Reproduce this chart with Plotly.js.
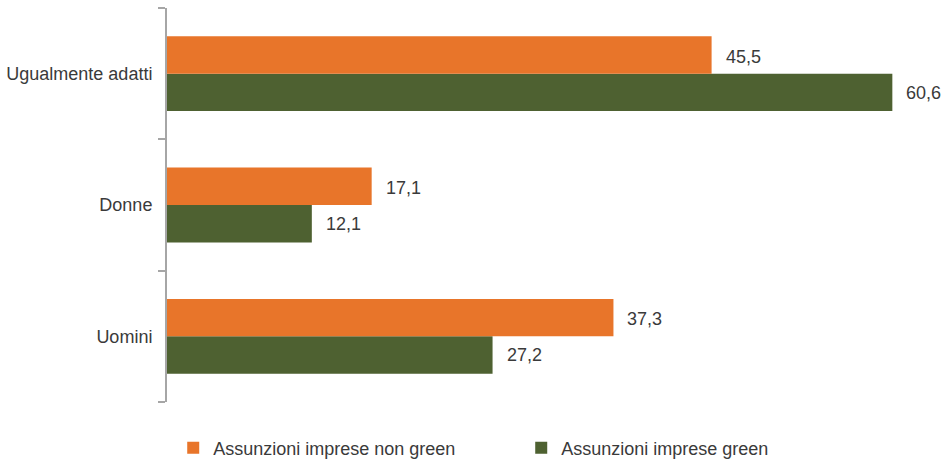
<!DOCTYPE html>
<html>
<head>
<meta charset="utf-8">
<script src="https://cdn.plot.ly/plotly-3.0.1.min.js"></script>
<style>html,body{margin:0;padding:0;background:#fff}#chart{width:947px;height:461px}</style>
</head>
<body>
<div id="chart"></div>
<script>
const categories = ['Uomini', 'Donne', 'Ugualmente adatti'];
const nonGreen = [37.3, 17.1, 45.5];
const green = [27.2, 12.1, 60.6];
const seriesNames = ['Assunzioni imprese non green', 'Assunzioni imprese green'];
const colors = ['#E8752A', '#4E6131'];

const fontFam = '"Liberation Sans", Arial, sans-serif';
const txtColor = '#3a3a3a';

const fmt = v => v.toFixed(1).replace('.', ',');

const traces = [
  {type: 'bar', orientation: 'h', name: seriesNames[1], y: categories, x: green,
   marker: {color: colors[1]}, hoverinfo: 'none'},
  {type: 'bar', orientation: 'h', name: seriesNames[0], y: categories, x: nonGreen,
   marker: {color: colors[0]}, hoverinfo: 'none'}
];

const annotations = [];
categories.forEach((c, i) => {
  annotations.push({x: nonGreen[i], y: c, text: fmt(nonGreen[i]), showarrow: false,
    xanchor: 'left', yanchor: 'middle', xshift: 12, yshift: 17,
    font: {family: fontFam, size: 18, color: txtColor}});
  annotations.push({x: green[i], y: c, text: fmt(green[i]), showarrow: false,
    xanchor: 'left', yanchor: 'middle', xshift: 12, yshift: -19,
    font: {family: fontFam, size: 18, color: txtColor}});
});

const layout = {
  width: 947, height: 461,
  margin: {l: 167, r: 2, t: 8, b: 59, autoexpand: false},
  paper_bgcolor: '#fff', plot_bgcolor: '#fff',
  barmode: 'group', bargap: 0.43, bargroupgap: 0,
  showlegend: true,
  font: {family: fontFam, size: 18, color: txtColor},
  xaxis: {range: [0, 65], showgrid: false, zeroline: false, showline: false,
          showticklabels: false, ticks: '', fixedrange: true},
  yaxis: {type: 'category', categoryorder: 'array', categoryarray: categories,
          range: [-0.5, 2.5], showgrid: false, zeroline: false,
          showline: true, linecolor: '#a6a6a6', linewidth: 2,
          ticks: 'outside', tickson: 'boundaries', ticklen: 7, tickwidth: 2, tickcolor: '#a6a6a6',
          ticklabelstandoff: 9,
          tickfont: {family: fontFam, size: 18, color: txtColor}},
  legend: {orientation: 'h', traceorder: 'reversed', x: 0.008, xanchor: 'left', y: -0.07, yanchor: 'top',
           entrywidth: 303, entrywidthmode: 'pixels',
           font: {family: fontFam, size: 18, color: txtColor}},
  annotations: annotations
};

Plotly.newPlot('chart', traces, layout, {displayModeBar: false, staticPlot: true});
</script>
</body>
</html>
